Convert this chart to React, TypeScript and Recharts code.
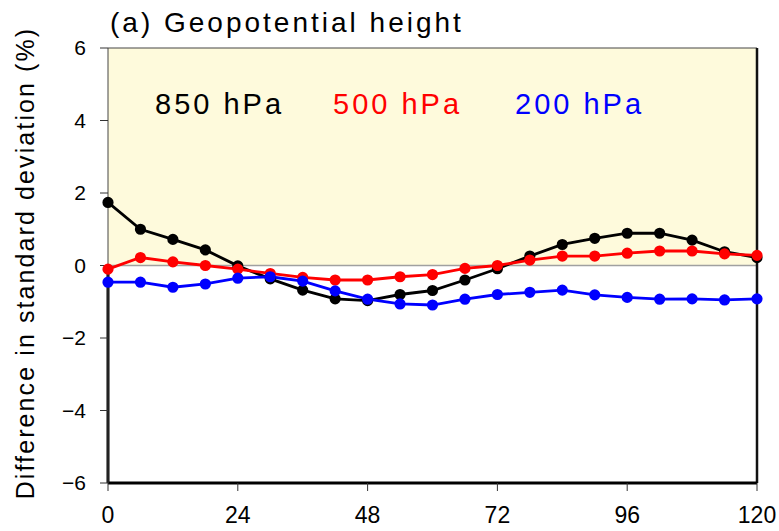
import React from 'react';
import { LineChart, Line, XAxis, YAxis, ReferenceArea, ReferenceLine } from 'recharts';

// forecast lead time (hours)
const hours = [0, 6, 12, 18, 24, 30, 36, 42, 48, 54, 60, 66, 72, 78, 84, 90, 96, 102, 108, 114, 120];

// difference in standard deviation (%) per level
const hPa850 = [1.74, 1.0, 0.72, 0.43, -0.01, -0.37, -0.68, -0.92, -0.97, -0.8, -0.69, -0.4, -0.09, 0.26, 0.58, 0.75, 0.89, 0.89, 0.7, 0.38, 0.22];
const hPa500 = [-0.1, 0.22, 0.1, 0.0, -0.1, -0.22, -0.33, -0.4, -0.4, -0.31, -0.25, -0.08, 0.0, 0.15, 0.26, 0.26, 0.34, 0.4, 0.4, 0.32, 0.28];
const hPa200 = [-0.46, -0.46, -0.6, -0.51, -0.35, -0.31, -0.43, -0.7, -0.93, -1.06, -1.09, -0.93, -0.8, -0.74, -0.68, -0.81, -0.88, -0.93, -0.92, -0.95, -0.92];

const xTicks = [0, 24, 48, 72, 96, 120];
const yTicks = [-6, -4, -2, 0, 2, 4, 6];

const data = hours.map((h, i) => ({ hour: h, p850: hPa850[i], p500: hPa500[i], p200: hPa200[i] }));

const FONT = '"Liberation Sans", Arial, Helvetica, sans-serif';

const fmt = (v: number) => (v < 0 ? '\u2212' + Math.abs(v) : String(v));

const App: React.FC = () => {
  return (
    <div style={{ position: 'absolute', left: 0, top: 0, width: 779, height: 531, background: '#fff', fontFamily: FONT, overflow: 'hidden' }}>
      <LineChart width={779} height={531} data={data} margin={{ top: 48, right: 22, bottom: 8, left: 0 }}>
        <ReferenceArea x1={0} x2={120} y1={0} y2={6} fill="#fefadc" fillOpacity={1} stroke="none" />
        <ReferenceLine y={0} stroke="#a0a0a0" strokeWidth={1.5} />
        <ReferenceLine y={6} stroke="#444" strokeWidth={1} />
        <ReferenceLine x={120} stroke="#111" strokeWidth={2.5} />
        <ReferenceLine segment={[{ x: 0, y: -6 }, { x: 0, y: 0 }]} stroke="#000" strokeWidth={3} />
        <XAxis
          dataKey="hour"
          type="number"
          domain={[0, 120]}
          ticks={xTicks}
          height={40}
          tickSize={8}
          tickMargin={16}
          axisLine={{ stroke: '#000', strokeWidth: 3 }}
          tickLine={{ stroke: '#333', strokeWidth: 1 }}
          tick={{ fill: '#000', fontSize: 23, fontFamily: FONT }}
        />
        <YAxis
          type="number"
          domain={[-6, 6]}
          ticks={yTicks}
          width={108}
          tickSize={8}
          tickMargin={14}
          tickFormatter={fmt}
          axisLine={{ stroke: '#444', strokeWidth: 1 }}
          tickLine={{ stroke: '#333', strokeWidth: 1 }}
          tick={{ fill: '#000', fontSize: 21, fontFamily: FONT }}
        />
        <Line type="linear" dataKey="p850" stroke="#000" strokeWidth={2.8} dot={{ r: 4.2, fill: '#000', stroke: '#000' }} isAnimationActive={false} />
        <Line type="linear" dataKey="p500" stroke="#ff0000" strokeWidth={2.8} dot={{ r: 4.2, fill: '#ff0000', stroke: '#ff0000' }} isAnimationActive={false} />
        <Line type="linear" dataKey="p200" stroke="#0000ff" strokeWidth={2.8} dot={{ r: 4.2, fill: '#0000ff', stroke: '#0000ff' }} isAnimationActive={false} />
      </LineChart>
      <div style={{ position: 'absolute', left: 110, top: 9, fontSize: 28, lineHeight: '28px', letterSpacing: 3, color: '#000', whiteSpace: 'nowrap' }}>
        (a) Geopotential height
      </div>
      <div style={{ position: 'absolute', left: 155, top: 90, fontSize: 29, lineHeight: '29px', letterSpacing: 3, color: '#000', whiteSpace: 'nowrap' }}>850 hPa</div>
      <div style={{ position: 'absolute', left: 333, top: 90, fontSize: 29, lineHeight: '29px', letterSpacing: 3, color: '#ff0000', whiteSpace: 'nowrap' }}>500 hPa</div>
      <div style={{ position: 'absolute', left: 515, top: 90, fontSize: 29, lineHeight: '29px', letterSpacing: 3, color: '#0000ff', whiteSpace: 'nowrap' }}>200 hPa</div>
      <div
        style={{
          position: 'absolute',
          left: 25 - 260,
          top: 263 - 15,
          width: 520,
          height: 30,
          lineHeight: '30px',
          fontSize: 25,
          letterSpacing: 2.1,
          textAlign: 'center',
          color: '#000',
          whiteSpace: 'nowrap',
          transform: 'rotate(-90deg)',
          transformOrigin: 'center center',
        }}
      >
        Difference in standard deviation (%)
      </div>
    </div>
  );
};

export default App;
